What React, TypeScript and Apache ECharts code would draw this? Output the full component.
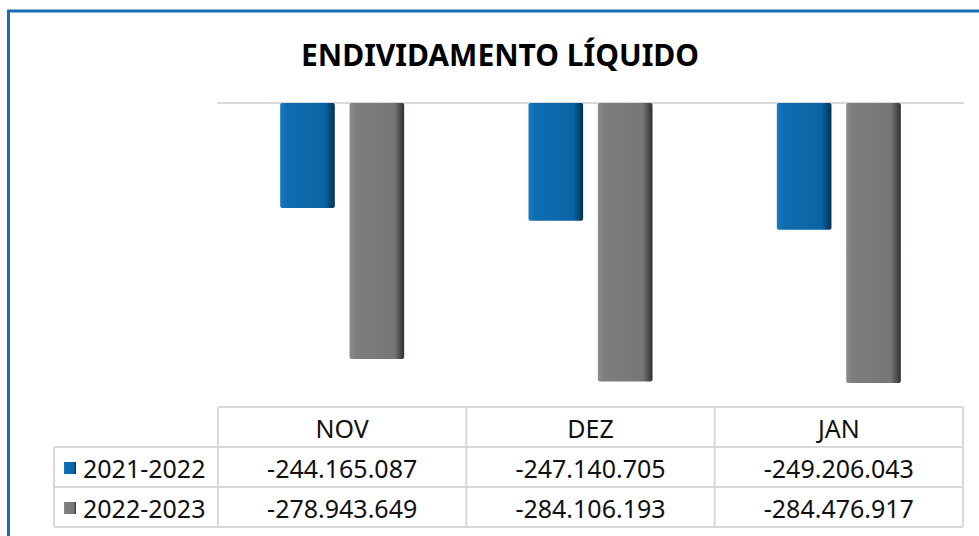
import React, { useEffect, useRef } from "react";
import * as echarts from "echarts";

const categories = ["NOV", "DEZ", "JAN"];
const seriesNames = ["2021-2022", "2022-2023"];
const values2122 = [-244165087, -247140705, -249206043];
const values2223 = [-278943649, -284106193, -284476917];
const axisMin = -290000000;
const axisMax = -220000000;

const W = 979;
const H = 536;
const GRID_LEFT = 218;
const GRID_RIGHT = 963;
const GRID_TOP = 103;
const TABLE_TOP = 407;
const ROW_H = 40;
const LEGEND_LEFT = 54;
const FONT = "'Noto Sans', 'DejaVu Sans', sans-serif";
const TABLE_FONT_SIZE = 25;

function fmt(n: number): string {
  const s = Math.abs(Math.round(n)).toString();
  const parts: string[] = [];
  for (let i = s.length; i > 0; i -= 3) parts.unshift(s.slice(Math.max(0, i - 3), i));
  return (n < 0 ? "-" : "") + parts.join(".");
}

const blueGrad = new echarts.graphic.LinearGradient(0, 0, 1, 0, [
  { offset: 0, color: "#1a7cc2" },
  { offset: 0.12, color: "#0e6db0" },
  { offset: 0.82, color: "#0a64a4" },
  { offset: 1, color: "#04314f" },
]);
const grayGrad = new echarts.graphic.LinearGradient(0, 0, 1, 0, [
  { offset: 0, color: "#8c8c8c" },
  { offset: 0.12, color: "#7c7e80" },
  { offset: 0.82, color: "#747678" },
  { offset: 1, color: "#2f2f2f" },
]);

export default function App() {
  const ref = useRef<HTMLDivElement>(null);
  useEffect(() => {
    if (!ref.current) return;
    const chart = echarts.init(ref.current, undefined, { renderer: "svg" });
    const colW = (GRID_RIGHT - GRID_LEFT) / categories.length;
    const lineColor = "#d9d9d9";
    const tFont = `${TABLE_FONT_SIZE}px ${FONT}`;
    const graphics: any[] = [];
    graphics.push({
      type: "rect",
      shape: { x: 8.5, y: 11, width: 1100, height: 700 },
      style: { fill: "none", stroke: "#1c6db0", lineWidth: 3 },
      silent: true,
    });
    const rowsBottom = TABLE_TOP + ROW_H * 3;
    graphics.push({ type: "line", shape: { x1: GRID_LEFT, y1: TABLE_TOP, x2: GRID_RIGHT, y2: TABLE_TOP }, style: { stroke: lineColor, lineWidth: 2 } });
    for (let r = 1; r <= 3; r++) {
      const y = TABLE_TOP + ROW_H * r;
      graphics.push({ type: "line", shape: { x1: LEGEND_LEFT, y1: y, x2: GRID_RIGHT, y2: y }, style: { stroke: lineColor, lineWidth: 2 } });
    }
    graphics.push({ type: "line", shape: { x1: LEGEND_LEFT, y1: TABLE_TOP + ROW_H, x2: LEGEND_LEFT, y2: rowsBottom }, style: { stroke: lineColor, lineWidth: 2 } });
    for (let c = 0; c <= categories.length; c++) {
      const x = GRID_LEFT + colW * c;
      graphics.push({ type: "line", shape: { x1: x, y1: TABLE_TOP, x2: x, y2: rowsBottom }, style: { stroke: lineColor, lineWidth: 2 } });
    }
    categories.forEach((cat, i) => {
      graphics.push({
        type: "text",
        x: GRID_LEFT + colW * (i + 0.5),
        y: TABLE_TOP + ROW_H / 2 + 1,
        style: { text: cat, fill: "#111", font: tFont, align: "center", verticalAlign: "middle" },
      });
    });
    const rows = [values2122, values2223];
    const keyColors = [blueGrad, grayGrad];
    rows.forEach((vals, r) => {
      const cy = TABLE_TOP + ROW_H * (r + 1) + ROW_H / 2 + 1;
      graphics.push({
        type: "rect",
        shape: { x: LEGEND_LEFT + 10, y: cy - 6, width: 12, height: 12 },
        style: { fill: keyColors[r] },
      });
      graphics.push({
        type: "text",
        x: LEGEND_LEFT + 29,
        y: cy,
        style: { text: seriesNames[r], fill: "#111", font: tFont, align: "left", verticalAlign: "middle" },
      });
      vals.forEach((v, i) => {
        graphics.push({
          type: "text",
          x: GRID_LEFT + colW * (i + 0.5),
          y: cy,
          style: { text: fmt(v), fill: "#111", font: tFont, align: "center", verticalAlign: "middle" },
        });
      });
    });

    chart.setOption({
      animation: false,
      title: {
        text: "ENDIVIDAMENTO LÍQUIDO",
        left: 495,
        textAlign: "center",
        top: 34,
        textStyle: { fontFamily: FONT, fontWeight: "bold", fontSize: 30, color: "#000" },
      },
      grid: { left: GRID_LEFT, right: W - GRID_RIGHT, top: GRID_TOP, bottom: H - TABLE_TOP },
      xAxis: {
        type: "category",
        data: categories,
        position: "top",
        axisLine: { show: true, onZero: false, lineStyle: { color: "#d9d9d9", width: 2 } },
        axisTick: { show: false },
        axisLabel: { show: false },
      },
      yAxis: {
        type: "value",
        min: axisMin,
        max: axisMax,
        show: false,
        splitLine: { show: false },
      },
      series: [
        {
          name: seriesNames[0],
          type: "bar",
          data: values2122,
          barWidth: "22%",
          barGap: "27%",
          itemStyle: { color: blueGrad, borderRadius: 2 },
        },
        {
          name: seriesNames[1],
          type: "bar",
          data: values2223,
          barWidth: "22%",
          barGap: "27%",
          itemStyle: { color: grayGrad, borderRadius: 2 },
        },
      ],
      graphic: graphics,
    });
    return () => chart.dispose();
  }, []);
  return <div ref={ref} style={{ position: "fixed", left: 0, top: 0, width: W, height: H, background: "#fff" }} />;
}
